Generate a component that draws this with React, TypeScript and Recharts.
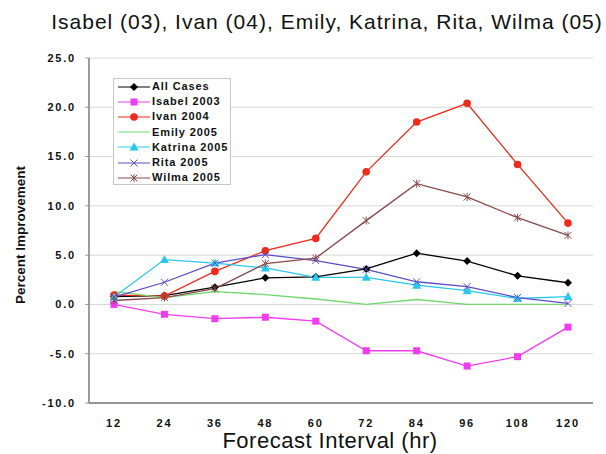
import React from 'react';
import {
  LineChart,
  Line,
  XAxis,
  YAxis,
  CartesianGrid,
} from 'recharts';

// forecast intervals (hr)
const hours = ['12', '24', '36', '48', '60', '72', '84', '96', '108', '120'];
const yTicks = [-10, -5, 0, 5, 10, 15, 20, 25];

// percent improvement by storm
const allCases = [0.8, 0.9, 1.75, 2.7, 2.8, 3.6, 5.2, 4.4, 2.9, 2.2];
const isabel = [0.0, -1.0, -1.45, -1.3, -1.7, -4.7, -4.7, -6.25, -5.3, -2.3];
const ivan = [0.95, 0.85, 3.35, 5.45, 6.7, 13.45, 18.5, 20.4, 14.2, 8.25];
const emily = [1.3, 0.7, 1.3, 1.0, 0.55, 0.0, 0.5, 0.0, 0.0, 0.0];
const katrina = [0.75, 4.55, 4.2, 3.7, 2.75, 2.75, 1.95, 1.4, 0.6, 0.8];
const rita = [0.75, 2.25, 4.2, 5.05, 4.45, 3.55, 2.3, 1.8, 0.7, 0.1];
const wilma = [0.4, 0.7, 1.6, 4.15, 4.7, 8.5, 12.25, 10.9, 8.8, 7.0];

const data = hours.map((h, i) => ({
  hour: h,
  all: allCases[i],
  isabel: isabel[i],
  ivan: ivan[i],
  emily: emily[i],
  katrina: katrina[i],
  rita: rita[i],
  wilma: wilma[i],
}));

type Shape = 'diamond' | 'square' | 'circle' | 'none' | 'triangle' | 'cross' | 'star';

const series: { key: string; name: string; color: string; shape: Shape }[] = [
  { key: 'all', name: 'All Cases', color: '#000000', shape: 'diamond' },
  { key: 'isabel', name: 'Isabel 2003', color: '#f03cf0', shape: 'square' },
  { key: 'ivan', name: 'Ivan 2004', color: '#ee2a1a', shape: 'circle' },
  { key: 'emily', name: 'Emily 2005', color: '#6fd86f', shape: 'none' },
  { key: 'katrina', name: 'Katrina 2005', color: '#28c8ee', shape: 'triangle' },
  { key: 'rita', name: 'Rita 2005', color: '#5a4ec8', shape: 'cross' },
  { key: 'wilma', name: 'Wilma 2005', color: '#8a4848', shape: 'star' },
];

const font = 'Liberation Sans, Arial, sans-serif';

const marker = (shape: Shape, color: string, cx: number, cy: number, k?: string) => {
  switch (shape) {
    case 'diamond':
      return <path key={k} d={`M${cx},${cy - 4}L${cx + 4},${cy}L${cx},${cy + 4}L${cx - 4},${cy}Z`} fill={color} />;
    case 'square':
      return <rect key={k} x={cx - 3.5} y={cy - 3.5} width={7} height={7} fill={color} />;
    case 'circle':
      return <circle key={k} cx={cx} cy={cy} r={3.8} fill={color} />;
    case 'triangle':
      return <path key={k} d={`M${cx},${cy - 4.5}L${cx + 4.5},${cy + 3.5}L${cx - 4.5},${cy + 3.5}Z`} fill={color} />;
    case 'cross':
      return (
        <path key={k} d={`M${cx - 3.5},${cy - 3.5}L${cx + 3.5},${cy + 3.5}M${cx - 3.5},${cy + 3.5}L${cx + 3.5},${cy - 3.5}`} stroke={color} strokeWidth={1} />
      );
    case 'star':
      return (
        <path
          key={k}
          d={`M${cx - 3.5},${cy - 3.5}L${cx + 3.5},${cy + 3.5}M${cx - 3.5},${cy + 3.5}L${cx + 3.5},${cy - 3.5}M${cx},${cy - 4}L${cx},${cy + 4}`}
          stroke={color}
          strokeWidth={1}
        />
      );
    default:
      return <g key={k} />;
  }
};

const LegendBox = () => (
  <div
    style={{
      position: 'absolute',
      left: 113,
      top: 78,
      border: '1px solid #c8c8c8',
      background: '#fff',
      width: 118,
      height: 107,
      boxSizing: 'border-box',
      paddingTop: 0,
    }}
  >
    {series.map((s) => (
      <div key={s.key} style={{ display: 'flex', alignItems: 'center', height: 15.2, lineHeight: '15px' }}>
        <svg width={34} height={12} style={{ marginLeft: 3, flex: 'none' }}>
          <line x1={1} y1={6} x2={33} y2={6} stroke={s.color} strokeWidth={1} />
          {marker(s.shape, s.color, 17, 6)}
        </svg>
        <span
          style={{
            fontFamily: font,
            fontWeight: 'bold',
            fontSize: 11,
            letterSpacing: 0.9,
            color: '#111',
            whiteSpace: 'nowrap',
            marginLeft: 1,
          }}
        >
          {s.name}
        </span>
      </div>
    ))}
  </div>
);

const tickStyle = {
  fontFamily: font,
  fontWeight: 'bold' as const,
  fontSize: 11,
  letterSpacing: 1.8,
  fill: '#111',
};

export default function App() {
  return (
    <div style={{ position: 'absolute', left: 0, top: 0, width: 606, height: 454, background: '#fff' }}>
      <div
        style={{
          position: 'absolute',
          left: 327,
          top: 22,
          transform: 'translate(-50%, -50%)',
          fontFamily: font,
          fontSize: 21,
          letterSpacing: 1,
          color: '#111',
          whiteSpace: 'nowrap',
        }}
      >
        Isabel (03), Ivan (04), Emily, Katrina, Rita, Wilma (05)
      </div>
      <div
        style={{
          position: 'absolute',
          left: 20,
          top: 235,
          transform: 'translate(-50%, -50%) rotate(-90deg)',
          fontFamily: font,
          fontWeight: 'bold',
          fontSize: 13.5,
          color: '#111',
          whiteSpace: 'nowrap',
        }}
      >
        Percent Improvement
      </div>
      <div
        style={{
          position: 'absolute',
          left: 330,
          top: 441,
          transform: 'translate(-50%, -50%)',
          fontFamily: font,
          fontSize: 22,
          letterSpacing: 0.5,
          color: '#111',
          whiteSpace: 'nowrap',
        }}
      >
        Forecast Interval (hr)
      </div>
      <LineChart width={606} height={454} data={data} margin={{ top: 58, right: 13, bottom: 0, left: 0 }}>
        <CartesianGrid vertical={false} stroke="#d6d6d6" yAxisId="left" />
        <XAxis
          dataKey="hour"
          height={51}
          padding={{ left: 25, right: 25 }}
          axisLine={{ stroke: '#7a7a7a', strokeWidth: 1.5 }}
          tickLine={false}
          tickMargin={10}
          tick={tickStyle}
          interval={0}
        />
        <XAxis xAxisId="top" dataKey="hour" orientation="top" height={0} tick={false} tickLine={false} axisLine={{ stroke: '#9a9a9a' }} />
        <YAxis
          yAxisId="left"
          width={89}
          domain={[-10, 25]}
          ticks={yTicks}
          interval={0}
          tickFormatter={(v: number) => v.toFixed(1)}
          axisLine={{ stroke: '#7a7a7a', strokeWidth: 1.5 }}
          tickLine={{ stroke: '#9a9a9a' }}
          tickSize={4}
          tickMargin={9}
          tick={tickStyle}
        />
        <YAxis yAxisId="right" orientation="right" width={0} tick={false} tickLine={false} axisLine={{ stroke: '#9a9a9a' }} />
        {series.map((s) => (
          <Line
            key={s.key}
            yAxisId="left"
            type="linear"
            dataKey={s.key}
            name={s.name}
            stroke={s.color}
            strokeWidth={1.3}
            isAnimationActive={false}
            dot={(p: any) => marker(s.shape, s.color, p.cx, p.cy, `${s.key}-${p.index}`)}
            activeDot={false}
          />
        ))}
      </LineChart>
      <LegendBox />
    </div>
  );
}
